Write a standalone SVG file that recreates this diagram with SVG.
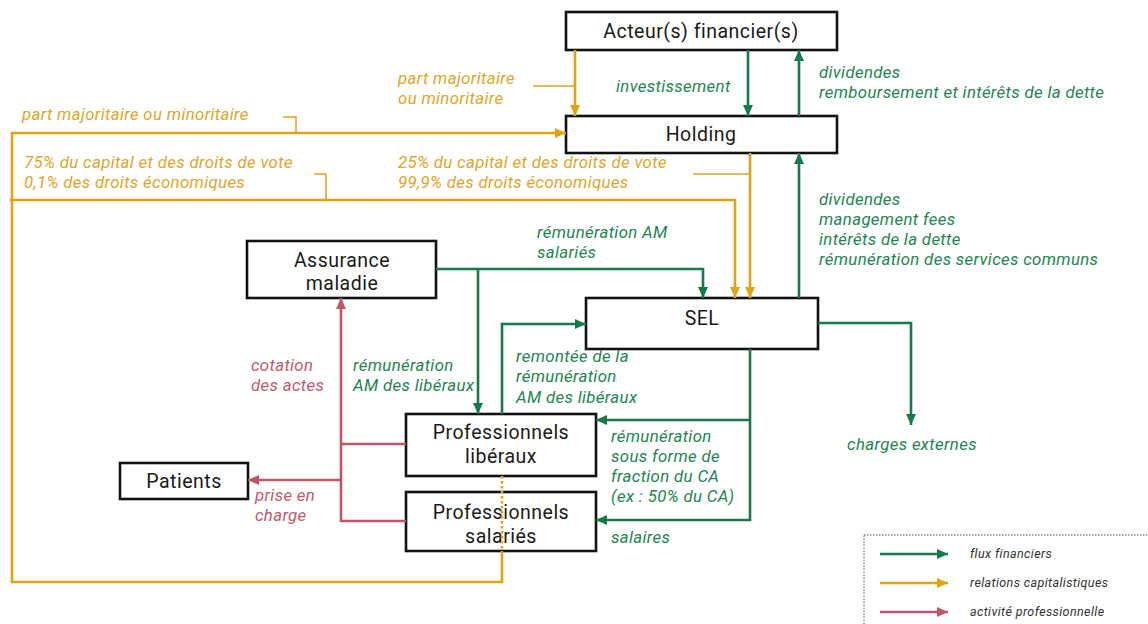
<svg xmlns="http://www.w3.org/2000/svg" width="1148" height="624" viewBox="0 0 1148 624">
  <style>
    .box { fill: #ffffff; stroke: #111111; stroke-width: 2.6; }
    .nlabel { font-family: Roboto, "Liberation Sans", sans-serif; font-size: 19.5px; fill: #1a1a1a; text-anchor: middle; letter-spacing: 0.5px; }
    .lbl { font-family: Roboto, "Liberation Sans", sans-serif; font-size: 16.8px; font-style: italic; letter-spacing: 0.35px; }
    .tg { fill: #23864f; }
    .to { fill: #e1a52a; }
    .tr { fill: #c4596a; }
    .fin { fill: none; stroke: #17784a; stroke-width: 2.6; }
    .cap { fill: none; stroke: #e2a313; stroke-width: 2.6; }
    .pro { fill: none; stroke: #c05566; stroke-width: 2.6; }
    .lead { fill: none; stroke: #e2a313; stroke-width: 1.5; }
    .legtxt { font-family: Roboto, "Liberation Sans", sans-serif; font-size: 12.5px; font-style: italic; fill: #333333; letter-spacing: 0.4px; }
  </style>
  <defs>
    <marker id="ag" markerUnits="userSpaceOnUse" markerWidth="11" markerHeight="10" refX="11" refY="5" orient="auto">
      <path d="M0,0 L11,5 L0,10 z" fill="#17784a"/>
    </marker>
    <marker id="ao" markerUnits="userSpaceOnUse" markerWidth="11" markerHeight="10" refX="11" refY="5" orient="auto">
      <path d="M0,0 L11,5 L0,10 z" fill="#e2a313"/>
    </marker>
    <marker id="ar" markerUnits="userSpaceOnUse" markerWidth="11" markerHeight="10" refX="11" refY="5" orient="auto">
      <path d="M0,0 L11,5 L0,10 z" fill="#c05566"/>
    </marker>
  </defs>

  <rect width="1148" height="624" fill="#ffffff"/>

  <!-- nodes -->
  <g id="acteurs">
    <rect class="box" x="566" y="12" width="271" height="38"/>
    <text class="nlabel" x="701" y="38">Acteur(s) financier(s)</text>
  </g>
  <g id="holding">
    <rect class="box" x="566" y="116" width="271" height="37"/>
    <text class="nlabel" x="701" y="141">Holding</text>
  </g>
  <g id="sel">
    <rect class="box" x="586" y="298" width="232" height="51"/>
    <text class="nlabel" x="702" y="325" letter-spacing="2">SEL</text>
  </g>
  <g id="assurance">
    <rect class="box" x="247" y="241" width="189" height="57"/>
    <text class="nlabel" x="342" y="267">Assurance</text>
    <text class="nlabel" x="342" y="290">maladie</text>
  </g>
  <g id="liberaux">
    <rect class="box" x="406" y="414" width="190" height="62"/>
    <text class="nlabel" x="501" y="439">Professionnels</text>
    <text class="nlabel" x="501" y="463">libéraux</text>
  </g>
  <g id="salaries">
    <rect class="box" x="406" y="492" width="190" height="59"/>
    <text class="nlabel" x="501" y="519">Professionnels</text>
    <text class="nlabel" x="501" y="543">salariés</text>
  </g>
  <g id="patients">
    <rect class="box" x="120" y="463" width="128" height="36"/>
    <text class="nlabel" x="184" y="488">Patients</text>
  </g>

  <!-- connectors -->
  <g id="connectors">
    <!-- capital relations -->
    <path class="cap" d="M575,50 V116" marker-end="url(#ao)"/>
    <path class="cap" d="M502,551 V582 H12 V133 H566" marker-end="url(#ao)"/>
    <path class="cap" d="M10,200 H735 V298" marker-end="url(#ao)"/>
    <path class="cap" d="M750,153 V298" marker-end="url(#ao)"/>
    <path class="cap" d="M502,476 V551" stroke-dasharray="2.5 2.5"/>
    <path class="lead" d="M283,117 H296 V133"/>
    <path class="lead" d="M314,174 H326 V200"/>
    <path class="lead" d="M533,86 H575"/>
    <path class="lead" d="M693,174 H750"/>

    <!-- financial flows -->
    <path class="fin" d="M748,50 V116" marker-end="url(#ag)"/>
    <path class="fin" d="M799,116 V50" marker-end="url(#ag)"/>
    <path class="fin" d="M799,298 V153" marker-end="url(#ag)"/>
    <path class="fin" d="M436,269 H703 V298" marker-end="url(#ag)"/>
    <path class="fin" d="M478,269 V414" marker-end="url(#ag)"/>
    <path class="fin" d="M502,414 V324 H586" marker-end="url(#ag)"/>
    <path class="fin" d="M818,323 H911 V425" marker-end="url(#ag)"/>
    <path class="fin" d="M750,349 V520 H596" marker-end="url(#ag)"/>
    <path class="fin" d="M750,420 H596" marker-end="url(#ag)"/>

    <!-- professional activity -->
    <path class="pro" d="M406,444 H341"/>
    <path class="pro" d="M406,521 H341 V298" marker-end="url(#ar)"/>
    <path class="pro" d="M341,480 H248" marker-end="url(#ar)"/>
  </g>

  <!-- flow labels -->
  <g id="labels">
    <text class="lbl to" x="398" y="84">part majoritaire</text>
    <text class="lbl to" x="398" y="104">ou minoritaire</text>
    <text class="lbl to" x="22" y="120">part majoritaire ou minoritaire</text>
    <text class="lbl to" x="24" y="168">75% du capital et des droits de vote</text>
    <text class="lbl to" x="24" y="188">0,1% des droits économiques</text>
    <text class="lbl to" x="398" y="168">25% du capital et des droits de vote</text>
    <text class="lbl to" x="398" y="188">99,9% des droits économiques</text>

    <text class="lbl tg" x="616" y="92">investissement</text>
    <text class="lbl tg" x="819" y="78">dividendes</text>
    <text class="lbl tg" x="819" y="98">remboursement et intérêts de la dette</text>
    <text class="lbl tg" x="819" y="205">dividendes</text>
    <text class="lbl tg" x="819" y="225">management fees</text>
    <text class="lbl tg" x="819" y="245">intérêts de la dette</text>
    <text class="lbl tg" x="819" y="265">rémunération des services communs</text>
    <text class="lbl tg" x="537" y="238">rémunération AM</text>
    <text class="lbl tg" x="537" y="258">salariés</text>
    <text class="lbl tg" x="353" y="371">rémunération</text>
    <text class="lbl tg" x="353" y="391">AM des libéraux</text>
    <text class="lbl tg" x="516" y="362">remontée de la</text>
    <text class="lbl tg" x="516" y="382">rémunération</text>
    <text class="lbl tg" x="516" y="403">AM des libéraux</text>
    <text class="lbl tg" x="611" y="442">rémunération</text>
    <text class="lbl tg" x="611" y="462">sous forme de</text>
    <text class="lbl tg" x="611" y="482">fraction du CA</text>
    <text class="lbl tg" x="611" y="502">(ex : 50% du CA)</text>
    <text class="lbl tg" x="611" y="543">salaires</text>
    <text class="lbl tg" x="912" y="450" text-anchor="middle">charges externes</text>

    <text class="lbl tr" x="251" y="371">cotation</text>
    <text class="lbl tr" x="251" y="391">des actes</text>
    <text class="lbl tr" x="255" y="501">prise en</text>
    <text class="lbl tr" x="255" y="521">charge</text>
  </g>

  <!-- legend -->
  <g id="legend">
    <rect x="864" y="535" width="300" height="100" fill="none" stroke="#555555" stroke-width="1" stroke-dasharray="1.5 1.5"/>
    <path class="fin" d="M880,554 H948" marker-end="url(#ag)"/>
    <path class="cap" d="M880,583 H948" marker-end="url(#ao)"/>
    <path class="pro" d="M880,612 H948" marker-end="url(#ar)"/>
    <text class="legtxt" x="970" y="558">flux financiers</text>
    <text class="legtxt" x="970" y="587">relations capitalistiques</text>
    <text class="legtxt" x="970" y="616">activité professionnelle</text>
  </g>
</svg>
